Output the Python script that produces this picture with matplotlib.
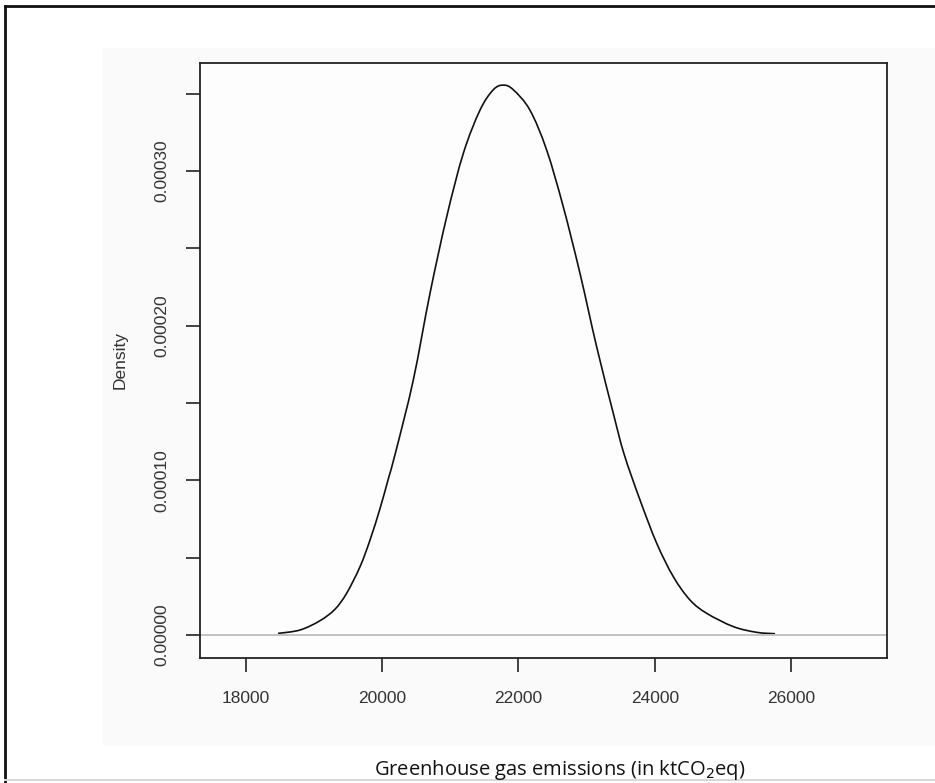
import matplotlib.pyplot as plt
from matplotlib.patches import Rectangle, PathPatch
from matplotlib.lines import Line2D
from matplotlib.path import Path

# density curve (ktCO2eq, density)
emissions = [18470, 18793, 19086, 19306, 19478, 19674, 19821, 19968,
             20090, 20202, 20456, 20701, 20946, 21190, 21435, 21631, 21778,
             21924, 22169, 22414, 22658, 22903, 23148, 23392, 23550, 23784,
             24029, 24273, 24518, 24763, 25154, 25497, 25766]
density = [0.0000010, 0.0000032, 0.0000092, 0.0000166, 0.0000270,
           0.0000441, 0.0000614, 0.0000818, 0.0001010, 0.0001190, 0.0001648,
           0.0002208, 0.0002703, 0.0003113, 0.0003393, 0.0003525, 0.0003555,
           0.0003525, 0.0003393, 0.0003135, 0.0002768, 0.0002338, 0.0001863,
           0.0001433, 0.0001170, 0.0000873, 0.0000593, 0.0000377, 0.0000226,
           0.0000140, 0.0000054, 0.0000017, 0.0000008]

x_ticks = [18000, 20000, 22000, 24000, 26000]
y_ticks = [0, 0.00005, 0.0001, 0.00015, 0.0002, 0.00025, 0.0003, 0.00035]
y_labels = ["0.00000", "", "0.00010", "", "0.00020", "", "0.00030", ""]


def smooth_path(xs, ys):
    # Catmull-Rom through the read points, drawn as cubic Bezier segments
    pts = list(zip(xs, ys))
    verts = [pts[0]]
    codes = [Path.MOVETO]
    n = len(pts)
    for i in range(n - 1):
        p0 = pts[max(i - 1, 0)]
        p1 = pts[i]
        p2 = pts[i + 1]
        p3 = pts[min(i + 2, n - 1)]
        c1 = (p1[0] + (p2[0] - p0[0]) / 6, p1[1] + (p2[1] - p0[1]) / 6)
        c2 = (p2[0] - (p3[0] - p1[0]) / 6, p2[1] - (p3[1] - p1[1]) / 6)
        verts += [c1, c2, p2]
        codes += [Path.CURVE4] * 3
    return Path(verts, codes)


W, H = 935, 783
fig = plt.figure(figsize=(W / 100, H / 100), dpi=100)
fig.patch.set_facecolor("white")

# light grey background of the embedded R plot
bg = Rectangle((103 / W, 1 - 746 / H), (W - 103) / W, (746 - 48) / H,
               transform=fig.transFigure, facecolor="#fafafa",
               edgecolor="none", zorder=-10)
fig.add_artist(bg)
# page frame
fig.add_artist(Line2D([5 / W, 1], [1 - 6 / H, 1 - 6 / H], color="#111111", lw=2))
fig.add_artist(Line2D([5 / W, 5 / W], [0, 1 - 6 / H], color="#111111", lw=2))
fig.add_artist(Line2D([5 / W, 1], [1 - 780 / H, 1 - 780 / H], color="#d8d8d8", lw=1.5))

ax = fig.add_axes([200 / W, 1 - 658 / H, (887 - 200) / W, (658 - 63) / H])
ax.set_facecolor("#fdfdfd")
ax.axhline(0, color="#bebebe", lw=1.3)
ax.add_patch(PathPatch(smooth_path(emissions, density), facecolor="none",
                       edgecolor="#111111", lw=1.2))

ax.set_xlim(17325, 27410)
ax.set_ylim(-0.0000149, 0.0003698)
ax.set_xticks(x_ticks)
ax.set_xticklabels([str(v) for v in x_ticks])
ax.set_yticks(y_ticks)
ax.set_yticklabels(y_labels, rotation=90, va="center")
ax.tick_params(axis="both", length=10, width=1.2, color="#222222",
               labelsize=12.5, labelcolor="#333333")
ax.tick_params(axis="x", pad=14)
ax.tick_params(axis="y", pad=12)
for sp in ax.spines.values():
    sp.set_color("#222222")
    sp.set_linewidth(1.3)

fig.text(120 / W, 1 - 360 / H, "Density", rotation=90, ha="center", va="center",
         fontsize=12.5, color="#333333", family="Liberation Sans")
for lab in ax.get_xticklabels() + ax.get_yticklabels():
    lab.set_family("Liberation Sans")

fig.text(560 / W, 1 - 775 / H, "Greenhouse gas emissions (in ktCO$_2$eq)",
         ha="center", va="baseline", fontsize=14.5, color="#111111",
         family="Open Sans")

fig.savefig("out.png", dpi=100)
